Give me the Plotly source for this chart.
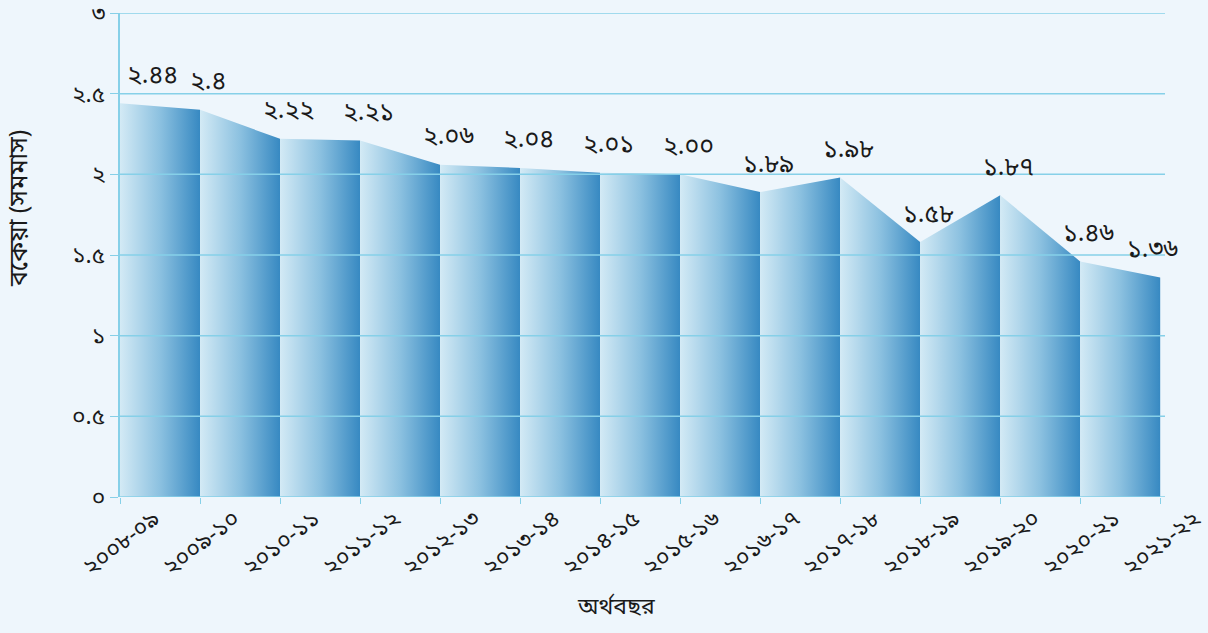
import plotly.graph_objects as go

# Fiscal years (Bengali numerals) and arrears values in equivalent months
years = ["২০০৮-০৯", "২০০৯-১০", "২০১০-১১", "২০১১-১২", "২০১২-১৩", "২০১৩-১৪", "২০১৪-১৫",
         "২০১৫-১৬", "২০১৬-১৭", "২০১৭-১৮", "২০১৮-১৯", "২০১৯-২০", "২০২০-২১", "২০২১-২২"]
values = [2.44, 2.40, 2.22, 2.21, 2.06, 2.04, 2.01, 2.00, 1.89, 1.98, 1.58, 1.87, 1.46, 1.36]
value_labels = ["২.৪৪", "২.৪", "২.২২", "২.২১", "২.০৬", "২.০৪", "২.০১",
                "২.০০", "১.৮৯", "১.৯৮", "১.৫৮", "১.৮৭", "১.৪৬", "১.৩৬"]
y_ticks = [0, 0.5, 1, 1.5, 2, 2.5, 3]
y_tick_labels = ["০", "০.৫", "১", "১.৫", "২", "২.৫", "৩"]

FONT = "Noto Sans Bengali, Noto Sans, sans-serif"
GRID = "#86d0e8"
BG = "#eef6fc"
INK = "#1a1a1a"

fig = go.Figure()

x_pos = list(range(len(years)))

# Each span between consecutive years is a trapezoid shaded light-to-dark
for i in range(len(values) - 1):
    fig.add_trace(go.Scatter(
        x=[x_pos[i], x_pos[i], x_pos[i + 1], x_pos[i + 1], x_pos[i]],
        y=[0, values[i], values[i + 1], 0, 0],
        fill="toself",
        mode="lines",
        line=dict(width=0),
        fillgradient=dict(
            type="horizontal",
            colorscale=[[0, "#d3eaf5"], [0.5, "#8cc1e0"], [1, "#3789c2"]],
        ),
        hoverinfo="skip",
        showlegend=False,
    ))

# Value labels above each point
last = len(values) - 1
for i, (xv, v, lab) in enumerate(zip(x_pos, values, value_labels)):
    fig.add_annotation(
        x=xv, y=v, text=lab, showarrow=False,
        xshift=32 if i == 0 else (-8 if i == last else 8), yshift=27,
        font=dict(family=FONT, size=25, color=INK),
    )

# Axis titles
fig.add_annotation(
    text="অর্থবছর", xref="paper", yref="paper", x=0.475, y=-0.229,
    xanchor="center", yanchor="middle", showarrow=False,
    font=dict(family=FONT, size=23, color=INK),
)
fig.add_annotation(
    text="বকেয়া (সমমাস)", xref="paper", yref="paper", x=-0.0957, y=0.597,
    xanchor="center", yanchor="middle", showarrow=False, textangle=-90,
    font=dict(family=FONT, size=25, color=INK),
)

# Grid lines drawn over the shaded area
for t in y_ticks:
    fig.add_shape(type="line", xref="paper", yref="y", x0=0, x1=1, y0=t, y1=t,
                  line=dict(color=GRID, width=1.5), layer="above")

fig.update_layout(
    width=1208,
    height=633,
    margin=dict(l=120, r=43, t=13, b=136),
    paper_bgcolor=BG,
    plot_bgcolor=BG,
    font=dict(family=FONT, size=20, color=INK),
    xaxis=dict(
        range=[0, 13.06],
        automargin=False,
        tickmode="array",
        tickvals=x_pos,
        ticktext=years,
        tickangle=-38,
        ticklabelshift=34,
        ticklabelstandoff=-8,
        ticks="outside",
        ticklen=6,
        tickcolor=GRID,
        showgrid=False,
        zeroline=False,
        showline=False,
        tickfont=dict(family=FONT, size=23, color=INK),
    ),
    yaxis=dict(
        range=[0, 3],
        automargin=False,
        tickmode="array",
        tickvals=y_ticks,
        ticktext=y_tick_labels,
        ticks="outside",
        ticklen=8,
        tickcolor=GRID,
        showgrid=False,
        zeroline=False,
        showline=True,
        linecolor=GRID,
        linewidth=2,
        tickfont=dict(family=FONT, size=23, color=INK),
    ),
)

fig.write_html("out.html")
